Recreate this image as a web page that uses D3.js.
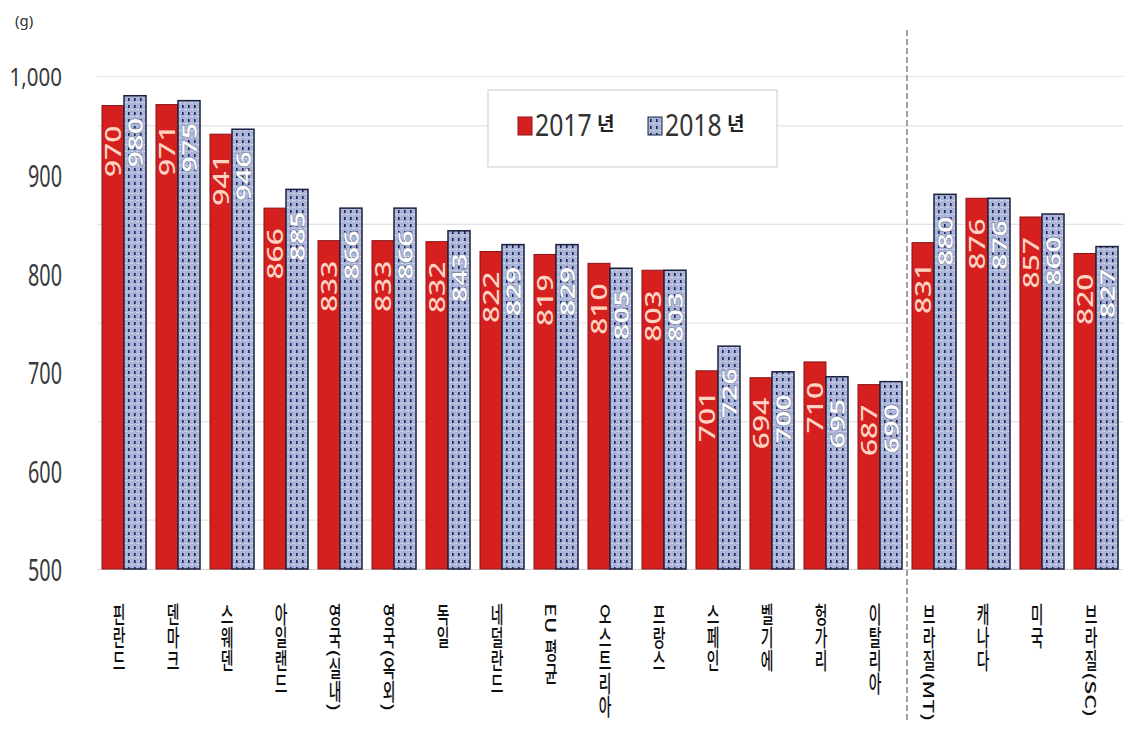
<!DOCTYPE html>
<html><head><meta charset="utf-8">
<script src="https://cdn.jsdelivr.net/npm/d3@7"></script>
<style>
html,body{margin:0;padding:0;background:#fff;}
svg{display:block;}
</style></head>
<body>
<svg id="chart" width="1123" height="730"></svg>
<script>
const categories = ["핀란드","덴마크","스웨덴","아일랜드","영국(실내)","영국(옥외)","독일","네덜란드","EU 평균","오스트리아","프랑스","스페인","벨기에","헝가리","이탈리아","브라질(MT)","캐나다","미국","브라질(SC)"];
const values2017 = [970,971,941,866,833,833,832,822,819,810,803,701,694,710,687,831,876,857,820];
const values2018 = [980,975,946,885,866,866,843,829,829,805,803,726,700,695,690,880,876,860,827];
const seriesNames = ["2017","2018"];
const yTicks = [500,600,700,800,900,1000];
const gridValues = [550,650,750,850,950,1000];
const separatorAfter = "이탈리아";

(function(){
const svg = d3.select("#chart");
const mLeft = 97, mRight = 1123, mTop = 76, mBottom = 569;

const x = d3.scaleBand().domain(categories).range([mLeft, mRight]).paddingInner(0.185).paddingOuter(0.0925);
const xs = d3.scaleBand().domain(seriesNames).range([0, x.bandwidth()]);
const y = d3.scaleLinear().domain([500, 1000]).range([mBottom, mTop]);

// pattern for 2018 bars
const defs = svg.append("defs");
const pat = defs.append("pattern").attr("id","dots").attr("patternUnits","userSpaceOnUse")
  .attr("width",6).attr("height",7);
pat.append("rect").attr("width",6).attr("height",7).attr("fill","#aab5d8");
pat.append("rect").attr("x",2).attr("y",0).attr("width",1.6).attr("height",3).attr("fill","#1d2560");
pat.append("rect").attr("x",4.5).attr("y",4).attr("width",1).attr("height",1).attr("fill","#e8ecf8");
pat.append("rect").attr("x",0).attr("y",4).attr("width",1).attr("height",1).attr("fill","#dfe4f4");

// gridlines
svg.append("g").selectAll("line").data(gridValues).join("line")
  .attr("x1", mLeft).attr("x2", mRight)
  .attr("y1", d => y(d)+0.5).attr("y2", d => y(d)+0.5)
  .attr("stroke", "#e3e3e3").attr("stroke-width", 1.2);

// y axis
const yAxis = svg.append("g").attr("transform", `translate(71,0)`)
  .call(d3.axisLeft(y).tickValues(yTicks).tickFormat(d3.format(",")).tickSize(0));
yAxis.select(".domain").remove();
yAxis.selectAll("text")
  .attr("x", null).attr("dy", null)
  .attr("dominant-baseline","central")
  .attr("text-anchor","end")
  .attr("transform", d => d >= 1000 ? "translate(-9,0) scale(0.82,1)" : "translate(-9,0) scale(0.66,1)")
  .style("font-family","'Noto Sans', 'Open Sans', sans-serif")
  .style("font-size", d => d >= 1000 ? "25px" : "30px")
  .attr("fill","#3a3a3a");

// x axis
const xAxis = svg.append("g").attr("transform", `translate(0,${mBottom})`)
  .call(d3.axisBottom(x).tickSize(0));
xAxis.select(".domain").attr("stroke","#d6d6d6").attr("stroke-width",1.2);
xAxis.selectAll("text")
  .attr("y", null).attr("dy", null)
  .attr("text-anchor","start")
  .attr("transform","translate(-5,34) scale(0.6,1)")
  .style("writing-mode","vertical-rl")
  .style("font-family","'Noto Sans CJK KR', sans-serif")
  .style("font-size","23px")
  .style("font-weight","500")
  .attr("fill","#111");

// separator
const sepIdx = categories.indexOf(separatorAfter);
const sepX = (x(categories[sepIdx]) + x.bandwidth() + x(categories[sepIdx+1])) / 2;
svg.append("line").attr("x1", sepX).attr("x2", sepX).attr("y1", 30).attr("y2", 722)
  .attr("stroke","#8a8a8a").attr("stroke-width",1.6).attr("stroke-dasharray","6,3");

// bars
const rows = categories.map((c,i) => ({cat:c, v:[values2017[i], values2018[i]]}));
const g = svg.append("g");
const groups = g.selectAll("g").data(rows).join("g").attr("transform", d => `translate(${x(d.cat)},0)`);
groups.append("rect")
  .attr("x", xs("2017")).attr("width", xs.bandwidth())
  .attr("y", d => y(d.v[0])).attr("height", d => y(500) - y(d.v[0]))
  .attr("fill","#d5201f").attr("stroke","#8c1414").attr("stroke-width",1);
groups.append("rect")
  .attr("x", xs("2018")).attr("width", xs.bandwidth())
  .attr("y", d => y(d.v[1])).attr("height", d => y(500) - y(d.v[1]))
  .attr("fill","url(#dots)").attr("stroke","#1b203e").attr("stroke-width",1.5);

// value labels
groups.append("text")
  .attr("transform", d => `translate(${xs("2017")+xs.bandwidth()/2},${y(d.v[0])+20}) scale(0.74,1) rotate(-90)`)
  .attr("text-anchor","end").attr("dominant-baseline","central")
  .style("font-family","'Noto Sans', sans-serif").style("font-size","30px").style("font-weight","500")
  .attr("fill","#ffd3c2")
  .text(d => d.v[0]);
groups.append("text")
  .attr("transform", d => `translate(${xs("2018")+xs.bandwidth()/2},${y(d.v[1])+22}) scale(0.74,1) rotate(-90)`)
  .attr("text-anchor","end").attr("dominant-baseline","central")
  .style("font-family","'Noto Sans', sans-serif").style("font-size","29px").style("font-weight","700")
  .attr("fill","#ffffff").attr("stroke","#6c7396").attr("stroke-width",0.6)
  .text(d => d.v[1]);

// unit label
svg.append("text").attr("x",15).attr("y",26).text("(g)")
  .style("font-family","'Noto Sans', sans-serif").style("font-size","15px").attr("fill","#333");

// legend
const lg = svg.append("g");
lg.append("rect").attr("x",488).attr("y",90).attr("width",289).attr("height",77)
  .attr("fill","#fff").attr("stroke","#d4d4d4").attr("stroke-width",1.2);
const legendItems = [
  {name: seriesNames[0], x: 518, fill:"#d5201f", stroke:"#8c1414"},
  {name: seriesNames[1], x: 648, fill:"url(#dots)", stroke:"#1b203e"}
];
legendItems.forEach(it => {
  lg.append("rect").attr("x", it.x).attr("y",117).attr("width",14).attr("height",18)
    .attr("fill", it.fill).attr("stroke", it.stroke).attr("stroke-width",1);
  lg.append("text").attr("transform", `translate(${it.x+17},136) scale(0.8,1)`)
    .style("font-family","'Noto Sans', sans-serif").style("font-size","31px")
    .attr("fill","#333").text(it.name);
  lg.append("text").attr("x", it.x+79).attr("y",131)
    .style("font-family","'Noto Sans CJK KR', sans-serif").style("font-size","19px").style("font-weight","700")
    .attr("fill","#222").text("년");
});
})();
</script>
</body></html>
